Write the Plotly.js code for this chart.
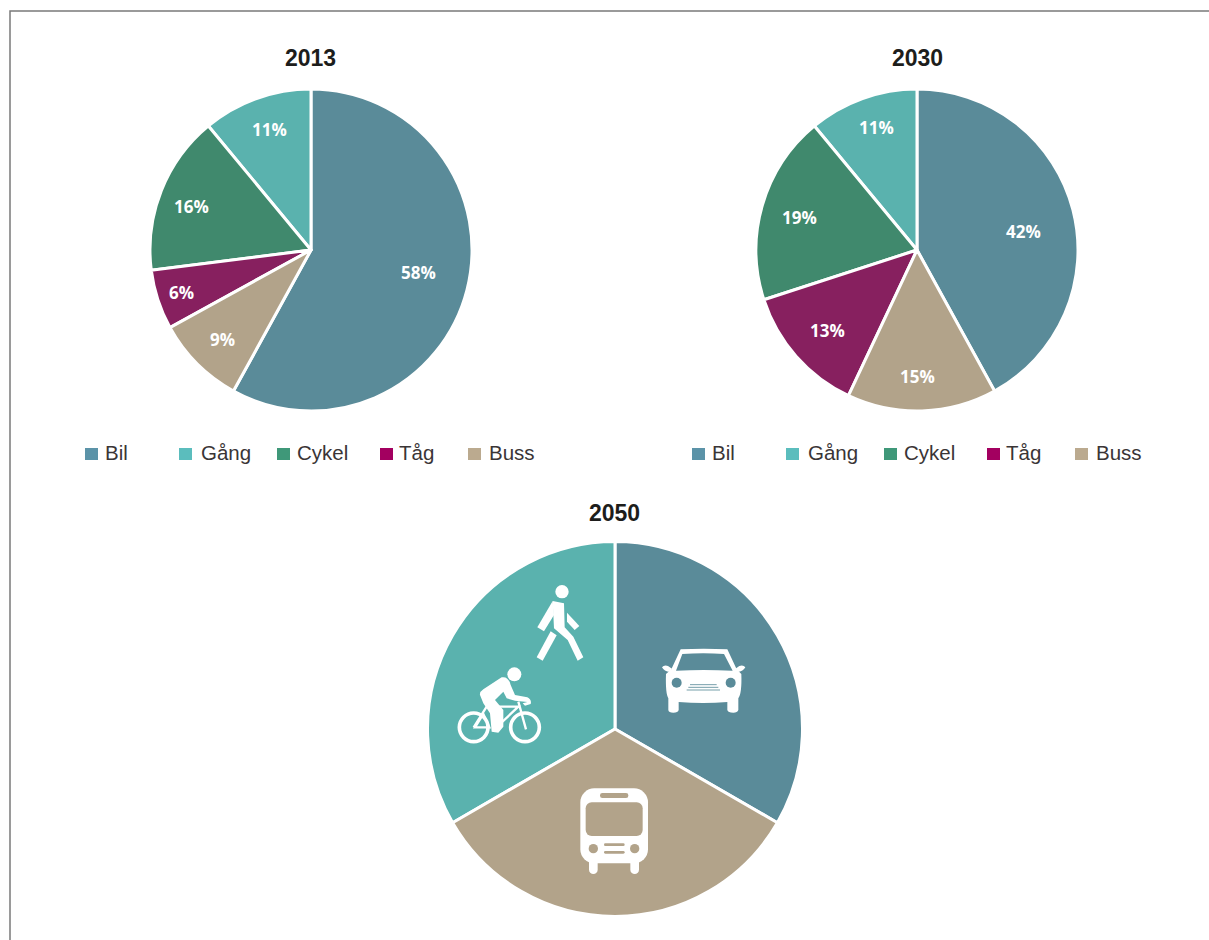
<!DOCTYPE html>
<html><head><meta charset="utf-8">
<script src="https://cdn.plot.ly/plotly-3.0.1.min.js"></script>
<style>html,body{margin:0;padding:0;background:#fff}#c{width:1209px;height:940px}</style></head>
<body><div id="c"></div>
<script>
const W = 1209, H = 940;
const categories = ['Bil', 'Gång', 'Cykel', 'Tåg', 'Buss'];
const values2013 = [58, 11, 16, 6, 9];
const values2030 = [42, 11, 19, 13, 15];
const categories2050 = ['Bil', 'Gång och cykel', 'Buss'];
const values2050 = [33.33, 33.33, 33.34];
const sliceColors = ['#5A8B99', '#5AB2AE', '#40896D', '#87205F', '#B2A38A'];
const sliceColors2050 = ['#5A8B99', '#5AB2AE', '#B2A38A'];
const legendColors = ['#5B93A8', '#5BBDBD', '#3F9879', '#A30060', '#BBAA8F'];
const years = ['2013', '2030', '2050'];
const legendSwatchX = [85, 179, 277, 380, 468];
const legendTextX = [105, 201, 297, 399, 489];
const labelX2013 = [418, 269, 191, 181, 222];
const labelY2013 = [272, 129, 206, 293, 340];
const labelX2030 = [1023, 876, 799, 827, 917];
const labelY2030 = [231, 128, 217, 331, 376];

const px = x => x / W, py = y => 1 - y / H;
function pie(values, labels, colors, cx, cy, r) {
  return {
    type: 'pie', values, labels, sort: false, direction: 'counterclockwise',
    rotation: 0,
    domain: {x: [px(cx - r), px(cx + r)], y: [py(cy + r), py(cy - r)]},
    marker: {colors, line: {color: '#fff', width: 3}},
    textinfo: 'none', textposition: 'none',
    showlegend: false, hoverinfo: 'label+percent'
  };
}
const data = [
  pie(values2013, categories, sliceColors, 311, 250, 161),
  pie(values2030, categories, sliceColors, 917, 250, 161),
  pie(values2050, categories2050, sliceColors2050, 615, 729, 187.5)
];
const annotations = [], shapes = [];
[[years[0], 310, 57.5], [years[1], 917, 57.5], [years[2], 614, 512.5]].forEach(([t, x, y]) =>
  annotations.push({text: '<b>' + t + '</b>', xref: 'paper', yref: 'paper', x: px(x), y: py(y),
    xanchor: 'center', yanchor: 'middle', showarrow: false,
    font: {family: 'Liberation Sans, Arial, sans-serif', size: 23, color: '#1d1d1b'}}));
[[values2013, labelX2013, labelY2013], [values2030, labelX2030, labelY2030]].forEach(([vals, xs, ys]) =>
  vals.forEach((v, i) => annotations.push({text: '<b>' + v + '%</b>', xref: 'paper', yref: 'paper',
    x: px(xs[i]), y: py(ys[i]), xanchor: 'center', yanchor: 'middle', showarrow: false,
    font: {family: 'Open Sans, sans-serif', size: 17, color: '#fff'}})));
[0, 607].forEach(off => categories.forEach((c, i) => {
  shapes.push({type: 'rect', xref: 'paper', yref: 'paper', x0: px(legendSwatchX[i] + off), x1: px(legendSwatchX[i] + off + 13),
    y0: py(460), y1: py(448), fillcolor: legendColors[i], line: {width: 0}});
  annotations.push({text: c, xref: 'paper', yref: 'paper', x: px(legendTextX[i] + off), y: py(453),
    xanchor: 'left', yanchor: 'middle', xshift: -2, showarrow: false,
    font: {family: 'Liberation Sans, sans-serif', size: 20.5, color: '#3a3536'}});
}));
shapes.push({type: 'path', xref: 'paper', yref: 'paper',
  path: `M${px(10)},${py(940)} L${px(10)},${py(11)} L${px(1209)},${py(11)}`,
  line: {color: '#7a7a7a', width: 1.5}});

const B = '#5A8B99', G = '#B2A38A';
const iconSvg = `<svg xmlns="http://www.w3.org/2000/svg" width="990" height="960" viewBox="0 0 990 960">
<g fill="#fff">
<circle cx="366" cy="65" r="20"/>
<path d="M338,93 L372,100 L374,172 L400,200 L430,262 L413,272 L383,210 L342,175 Z"/>
<path d="M338,93 L292,172 L312,184 L342,135 Z"/>
<path d="M381,128 L418,168 L404,180 L381,155 Z"/>
<path d="M332,184 L350,196 L308,272 L290,262 Z"/>
<circle cx="223" cy="313" r="21"/>
<path d="M120,375 Q118,366 130,358 L185,322 Q205,318 212,345 L225,375 L262,382 Q276,390 272,402 L255,407 L248,400 L262,396 L225,392 L200,385 L190,365 L165,390 L190,420 L190,470 L175,488 L155,485 L150,430 L130,400 Z"/>
<path d="M722,238 Q790,234 862,238 L890,298 L904,312 Q906,370 895,385 L895,420 Q892,428 880,428 Q864,428 862,420 L862,396 Q790,402 716,396 L716,420 Q714,428 700,428 Q686,428 685,420 L685,385 Q676,370 678,312 L694,298 Z"/>
<path d="M666,292 Q672,284 684,288 L696,296 L690,306 Q672,304 666,292 Z M916,292 Q910,284 898,288 L886,296 L892,306 Q910,304 916,292 Z"/>
<rect x="421" y="655" width="203" height="225" rx="42"/>
<rect x="447" y="860" width="26" height="52" rx="13"/><rect x="571" y="860" width="26" height="52" rx="13"/>
</g>
<g fill="none" stroke="#fff">
<circle cx="101" cy="472" r="43" stroke-width="11"/><circle cx="255" cy="472" r="43" stroke-width="11"/>
<path d="M101,472 L140,410 M105,472 L148,472 L130,432 Z M175,410 L235,410 L180,462 M235,395 L258,478" stroke-width="7"/>
</g>
<path d="M727,252 Q790,248 852,252 L878,302 Q790,298 708,302 Z" fill="${B}"/>
<circle cx="710" cy="338" r="15" fill="${B}"/><circle cx="872" cy="338" r="15" fill="${B}"/>
<path d="M750,344 H830 M745,352 H835 M740,360 H840" stroke="${B}" stroke-width="2.5"/>
<g fill="${G}">
<rect x="480" y="669" width="85" height="15" rx="7"/>
<rect x="437" y="697" width="171" height="101" rx="18"/>
<circle cx="460" cy="836" r="14"/><circle cx="584" cy="836" r="14"/>
<rect x="492" y="820" width="62" height="8" rx="4"/><rect x="492" y="843" width="62" height="8" rx="4"/>
</g></svg>`;
const images = [{source: 'data:image/svg+xml;charset=utf-8,' + encodeURIComponent(iconSvg),
  xref: 'paper', yref: 'paper', x: px(440), y: py(570), sizex: 330 / W, sizey: 320 / H,
  xanchor: 'left', yanchor: 'top', sizing: 'stretch', layer: 'above'}];

Plotly.newPlot('c', data, {
  width: W, height: H, margin: {l: 0, r: 0, t: 0, b: 0}, paper_bgcolor: '#fff',
  annotations, shapes, images, showlegend: false
}, {displayModeBar: false});
</script></body></html>
